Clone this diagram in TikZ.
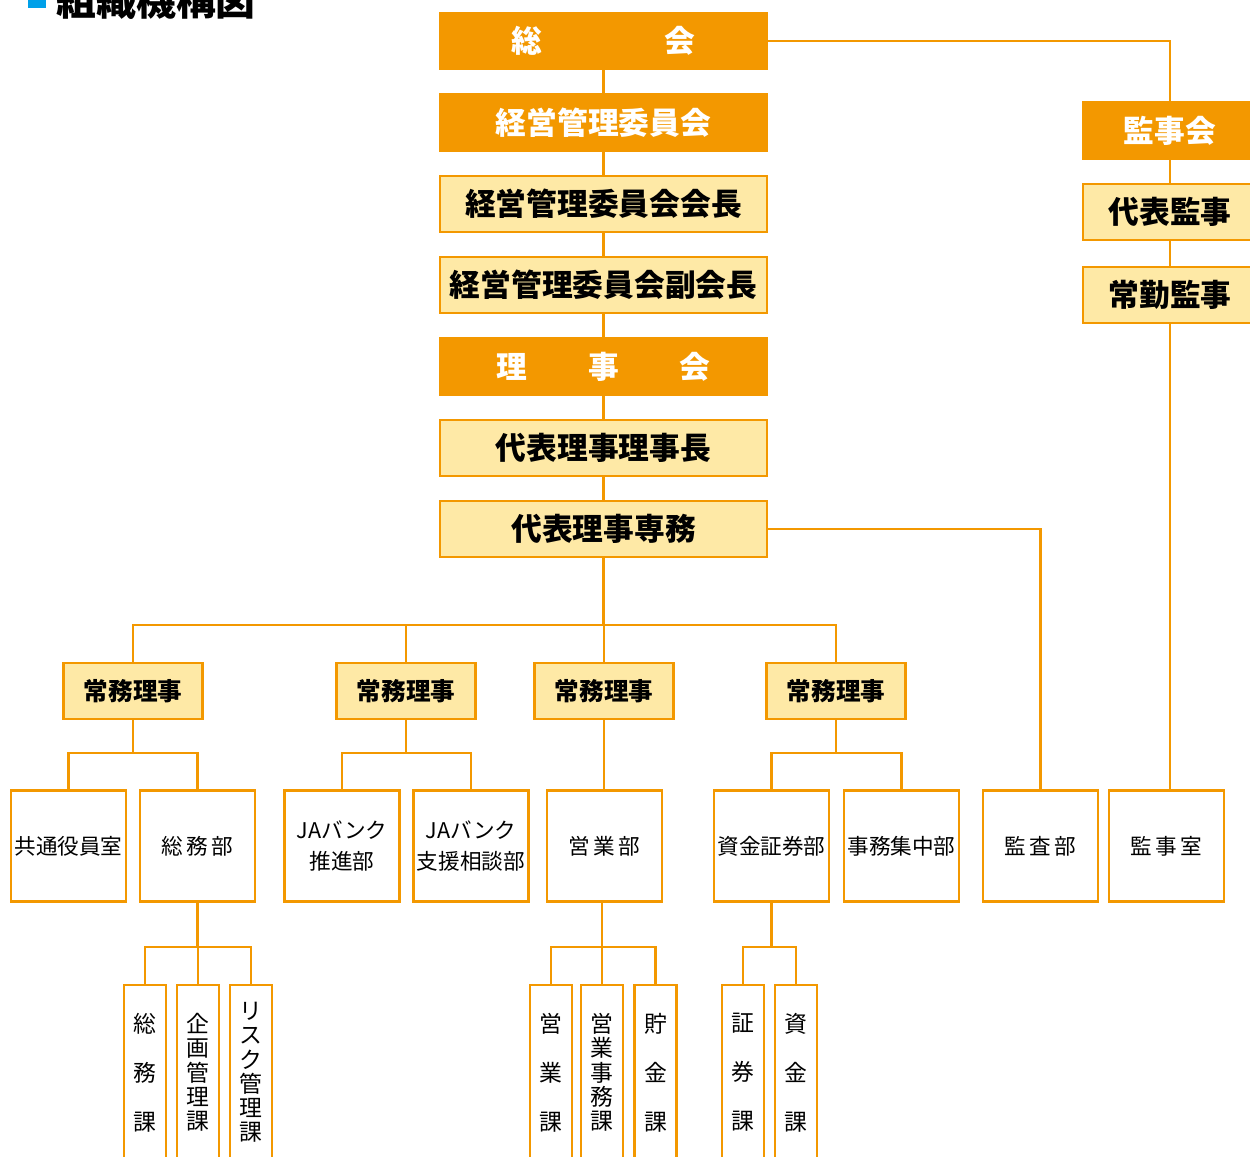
\documentclass[tikz,border=0pt]{standalone}
\usepackage{fontspec}
\setmainfont{Noto Sans CJK JP}
\usepackage{tikz}
\definecolor{jaorange}{HTML}{F39800}
\definecolor{jayellow}{HTML}{FEE9A6}
\definecolor{titleblue}{HTML}{00A0E9}
\tikzset{
  link/.style={draw=jaorange, line width=1.5pt},
  kaigi/.style={draw=jaorange, fill=jaorange, text=white, line width=1pt, minimum width=6.54cm, minimum height=1.13cm, inner sep=0pt, font=\bfseries\fontsize{17.5}{20}\selectfont},
  yakuin/.style={draw=jaorange, fill=jayellow, line width=1.5pt, minimum width=6.54cm, minimum height=1.12cm, inner sep=0pt, font=\bfseries\fontsize{17.5}{20}\selectfont},
  jomu/.style={draw=jaorange, fill=jayellow, line width=1.5pt, minimum width=2.78cm, minimum height=1.12cm, inner sep=0pt, font=\bfseries\fontsize{14}{16}\selectfont},
  bu/.style={draw=jaorange, fill=white, line width=1.5pt, minimum width=2.3cm, minimum height=2.22cm, inner sep=0pt, align=center, font=\fontsize{12.3}{18}\selectfont},
  ka/.style={draw=jaorange, fill=white, line width=1.5pt, minimum width=0.84cm, minimum height=3.5cm, inner sep=0pt, align=center, font=\fontsize{13}{13.8}\selectfont},
  kawide/.style={ka, font=\fontsize{13}{27.9}\selectfont}
}
\newcommand{\spread}[3]{#1\kern2pt#2\kern2pt#3}
\begin{document}
\begin{tikzpicture}[x=0.02cm, y=-0.02cm]
    \useasboundingbox (0,0) rectangle (1250,1156);
    \clip (0,0) rectangle (1250,1156);

    % --- Title ---
    \fill[titleblue] (28,-10) rectangle (46,8);
    \node[anchor=base west, inner sep=0pt, font=\bfseries\fontsize{22.7}{26}\selectfont] (title) at (56,15) {組織機構図};

    % --- Main chain ---
    \node[kaigi] (sokai) at (603.5,41) {総\hspace{2.44cm}会};
    \node[kaigi] (keiei) at (603.5,122.5) {経営管理委員会};
    \node[yakuin] (kaicho) at (603.5,204) {経営管理委員会会長};
    \node[yakuin] (fukukaicho) at (603.5,285) {経営管理委員会副会長};
    \node[kaigi] (rijikai) at (603.5,366.5) {理\hspace{1.21cm}事\hspace{1.21cm}会};
    \node[yakuin] (rijicho) at (603.5,448) {代表理事理事長};
    \node[yakuin] (senmu) at (603.5,529) {代表理事専務};

    % --- Audit side ---
    \node[kaigi, minimum width=3.48cm] (kanjikai) at (1170,130.5) {監事会};
    \node[yakuin, minimum width=3.48cm] (daihyokanji) at (1170,212) {代表監事};
    \node[yakuin, minimum width=3.48cm] (jokinkanji) at (1170,295) {常勤監事};

    % --- Managing directors ---
    \node[jomu] (jomuA) at (133,691) {常務理事};
    \node[jomu] (jomuB) at (406,691) {常務理事};
    \node[jomu] (jomuC) at (604,691) {常務理事};
    \node[jomu] (jomuD) at (836,691) {常務理事};

    % --- Departments ---
    \node[bu] (kyotsu) at (68.5,846) {共通役員室};
    \node[bu] (somu) at (197.5,846) {\spread{総}{務}{部}};
    \node[bu] (suishin) at (342,846) {JAバンク\\推進部};
    \node[bu] (shien) at (471,846) {JAバンク\\支援相談部};
    \node[bu] (eigyo) at (604.5,846) {\spread{営}{業}{部}};
    \node[bu] (shikin) at (771.5,846) {資金証券部};
    \node[bu] (jimu) at (901.5,846) {事務集中部};
    \node[bu] (kansa) at (1040.5,846) {\spread{監}{査}{部}};
    \node[bu] (kanjishitsu) at (1166.5,846) {\spread{監}{事}{室}};

    % --- Sections ---
    \node[kawide] (somuka) at (145,1072.5) {総\\務\\課};
    \node[ka] (kikaku) at (198,1072.5) {企\\画\\管\\理\\課};
    \node[ka] (risuku) at (251,1072.5) {リ\\ス\\ク\\管\\理\\課};
    \node[kawide] (eigyoka) at (551,1072.5) {営\\業\\課};
    \node[ka] (eigyojimu) at (602,1072.5) {営\\業\\事\\務\\課};
    \node[kawide] (chokin) at (655.5,1072.5) {貯\\金\\課};
    \node[kawide] (shoken) at (743,1072.5) {証\\券\\課};
    \node[kawide] (shikinka) at (796,1072.5) {資\\金\\課};

    % --- Connectors ---
    \foreach \a/\b in {sokai/keiei, keiei/kaicho, kaicho/fukukaicho, fukukaicho/rijikai,
                       rijikai/rijicho, rijicho/senmu, kanjikai/daihyokanji, daihyokanji/jokinkanji}
        \draw[link] (\a.south) -- (\b.north);
    \draw[link] (sokai.east) -| (kanjikai.north);
    \draw[link] (senmu.east) -| (kansa.north);
    \draw[link] (jokinkanji.south) -- (jokinkanji.south |- kanjishitsu.north);

    % bus to managing directors
    \coordinate (busA) at (604,625);
    \draw[link] (senmu.south) -- (senmu.south |- busA);
    \draw[link] (jomuA.north) |- (busA) -| (jomuD.north);
    \draw[link] (jomuB.north) -- (jomuB.north |- busA);
    \draw[link] (jomuC.north) -- (busA);

    % directors to departments
    \coordinate (busB) at (133,753);
    \draw[link] (jomuA.south) -- (busB);
    \draw[link] (kyotsu.north) |- (busB) -| (somu.north);
    \coordinate (busC) at (406,753);
    \draw[link] (jomuB.south) -- (busC);
    \draw[link] (suishin.north) |- (busC) -| (shien.north);
    \draw[link] (jomuC.south) -- (jomuC.south |- eigyo.north);
    \coordinate (busD) at (836,753);
    \draw[link] (jomuD.south) -- (busD);
    \draw[link] (shikin.north) |- (busD) -| (jimu.north);

    % departments to sections
    \coordinate (busE) at (197.5,947);
    \draw[link] (somu.south) -- (busE);
    \draw[link] (somuka.north) |- (busE) -| (risuku.north);
    \draw[link] (kikaku.north) -- (kikaku.north |- busE);
    \coordinate (busF) at (602,947);
    \draw[link] (eigyo.south -| busF) -- (busF);
    \draw[link] (eigyoka.north) |- (busF) -| (chokin.north);
    \draw[link] (eigyojimu.north) -- (eigyojimu.north |- busF);
    \coordinate (busG) at (771.5,947);
    \draw[link] (shikin.south) -- (busG);
    \draw[link] (shoken.north) |- (busG) -| (shikinka.north);
\end{tikzpicture}
\end{document}
